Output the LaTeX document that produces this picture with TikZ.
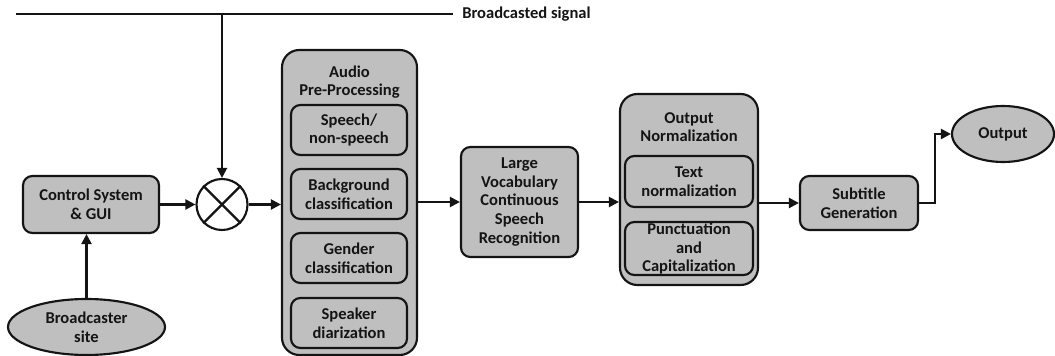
\documentclass[tikz,border=0pt]{standalone}
\usepackage{fontspec}
\setmainfont{Carlito}
\usetikzlibrary{shapes.geometric,arrows.meta}
\definecolor{boxgray}{RGB}{191,191,191}
\definecolor{inkc}{RGB}{20,20,20}
\tikzset{
  sz/.style 2 args={minimum width=#1*0.75pt, minimum height=#2*0.75pt},
  blk/.style={draw=inkc, line width=1.6pt, fill=boxgray, rounded corners=7pt,
    align=center, inner sep=0pt, text=inkc,
    font=\fontsize{12.4}{13.9}\selectfont\bfseries},
  bigblk/.style={blk, rounded corners=13pt},
  ell/.style={blk, ellipse, rounded corners=0pt},
  ttl/.style={align=center, inner sep=0pt, text=inkc,
    font=\fontsize{12.4}{13.9}\selectfont\bfseries},
  conn/.style={draw=inkc, line width=1.6pt},
  arr/.style={conn, -{Triangle[length=7.5pt,width=7.5pt]}},
}
\begin{document}
\begin{tikzpicture}[x=0.75pt,y=-0.75pt]
\useasboundingbox (0,0) rectangle (1055,356);
% broadcast line
\coordinate (tl) at (16,14);
\coordinate (tr) at (453,14);
\coordinate (tap) at (222,14);
\node[ttl, anchor=west] (sig) at (462,14) {Broadcasted signal};
\draw[conn] (tl) -- (tr);
% nodes
\node[blk, sz={136}{57}] (ctrl) at (91,204.5) {Control System\\\& GUI};
\node[ell, sz={157}{56}] (bsite) at (86.5,327) {Broadcaster\\site};
\node[circle, draw=inkc, line width=1.6pt, fill=white, minimum size=51*0.75pt, inner sep=0pt] (mix) at (222,204.5) {};
\draw[conn] (mix.north west) -- (mix.south east);
\draw[conn] (mix.north east) -- (mix.south west);
% audio pre-processing
\node[bigblk, sz={135}{305}] (audio) at (349.5,202.5) {};
\node[ttl] (audiot) at (349.5,82) {Audio\\Pre-Processing};
\node[blk, sz={116}{50}] (sp) at (349,130) {Speech/\\non-speech};
\node[blk, sz={116}{50}] (bg) at (349,194) {Background\\classification};
\node[blk, sz={116}{50}] (gd) at (349,258) {Gender\\classification};
\node[blk, sz={116}{50}] (dz) at (349,323) {Speaker\\diarization};
% LVCSR
\node[blk, sz={117}{110}] (lv) at (519.5,202) {Large\\Vocabulary\\Continuous\\Speech\\Recognition};
% output normalization
\node[bigblk, sz={138}{191}] (on) at (689,189.5) {};
\node[ttl] (ont) at (689,127) {Output\\Normalization};
\node[blk, sz={128}{51}] (tn) at (689,181.5) {Text\\normalization};
\node[blk, sz={128}{53}] (pc) at (689,248.5) {Punctuation\\and\\Capitalization};
% subtitle & output
\node[blk, sz={118}{54}] (st) at (859,203) {Subtitle\\Generation};
\node[ell, sz={102}{56}] (out) at (1003,134) {Output};
\coordinate (bend) at (935,134);
% connectors
\draw[arr] (tap) -- (mix.north);
\draw[arr] (bsite.north) -- (bsite.north |- ctrl.south);
\draw[arr] (ctrl.east) -- (mix.west);
\draw[arr] (mix.east) -- (mix.east -| audio.west);
\draw[arr] (audio.east |- lv.west) -- (lv.west);
\draw[arr] (lv.east) -- (lv.east -| on.west);
\draw[arr] (st.west -| on.east) -- (st.west);
\draw[arr] (st.east) -| (bend) -- (out.west);
\end{tikzpicture}
\end{document}
